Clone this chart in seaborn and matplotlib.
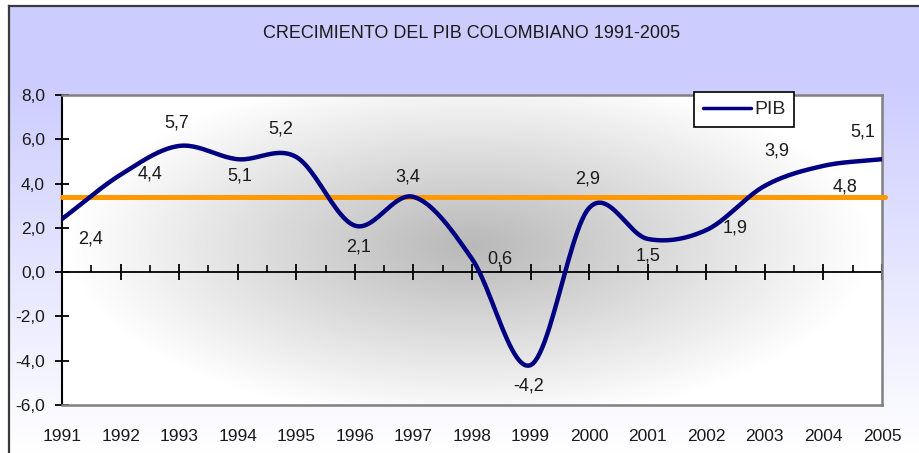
import numpy as np
import pandas as pd
import matplotlib
matplotlib.use("Agg")
import matplotlib.pyplot as plt
import seaborn as sns
from matplotlib.ticker import FuncFormatter, FixedLocator

# ---------------- data ----------------
years = [1991, 1992, 1993, 1994, 1995, 1996, 1997, 1998,
         1999, 2000, 2001, 2002, 2003, 2004, 2005]
pib = [2.4, 4.4, 5.7, 5.1, 5.2, 2.1, 3.4, 0.6,
       -4.2, 2.9, 1.5, 1.9, 3.9, 4.8, 5.1]
avg_line = 3.4
year_labels = [str(y) for y in years]
y_ticks = [-6, -4, -2, 0, 2, 4, 6, 8]
title_text = "CRECIMIENTO DEL PIB COLOMBIANO 1991-2005"
series_name = "PIB"

# label offsets (pixels: dx right, dy down) — styling only
label_offsets = [(29, 20), (29, -1), (-2, -23), (2, 17), (-16, -28),
                 (4, 21), (-6, -20), (28, 0), (-2, 21), (-2, -29),
                 (0, 17), (29, -2), (12, -35), (22, 21), (-19, -27)]

sns.set_theme(style="white")
plt.rcParams["font.family"] = ["Liberation Sans", "DejaVu Sans"]

W, H = 919, 453
fig = plt.figure(figsize=(W / 100, H / 100), dpi=100)
fig.patch.set_facecolor("white")

# ---------- outer lavender background with frame ----------
bg = fig.add_axes([9 / W, 0, (W - 9) / W, (H - 6) / H])
ypix = np.linspace(6, H, 300)
t = np.clip((ypix - 80) / (H - 80), 0, 1)
rg = (204 + 51 * t) / 255.0
grad = np.zeros((300, 2, 3))
grad[:, :, 0] = rg[:, None]
grad[:, :, 1] = rg[:, None]
grad[:, :, 2] = 1.0
bg.imshow(grad, aspect="auto", extent=[0, 1, 0, 1], origin="upper")
bg.set_xlim(0, 1)
bg.set_ylim(0, 1)
bg.set_xticks([])
bg.set_yticks([])
for s in ["right", "bottom"]:
    bg.spines[s].set_visible(False)
for s in ["left", "top"]:
    bg.spines[s].set_color("#3a3a3a")
    bg.spines[s].set_linewidth(1.6)

# ---------- plot area ----------
L, R, T, B = 62, 882, 95, 405
pos = [L / W, 1 - B / H, (R - L) / W, (B - T) / H]

# gradient plot-area fill
axg = fig.add_axes(pos, zorder=0.5)
pw, ph = R - L, B - T
X, Y = np.meshgrid(np.arange(pw), np.arange(ph))
cx, cy, rx, ry = 408, 150, 400, 175
d = np.sqrt(((X - cx) / rx) ** 2 + ((Y - cy) / ry) ** 2)
c0 = 184
val = (c0 + (255 - c0) * np.clip(d, 0, 1)) / 255.0
img = np.dstack([val, val, val])
axg.imshow(img, aspect="auto", extent=[0, 1, 0, 1], origin="upper")
axg.set_axis_off()

ax = fig.add_axes(pos, zorder=2)
ax.patch.set_visible(False)

# zero axis with ticks (twin sharing y)
ax0 = ax.twiny()
ax0.set_zorder(1)
ax0.patch.set_visible(False)
ax0.set_xlim(years[0], years[-1])
for s in ["top", "left", "right"]:
    ax0.spines[s].set_visible(False)
ax0.spines["bottom"].set_position(("data", 0))
ax0.spines["bottom"].set_color("black")
ax0.spines["bottom"].set_linewidth(1.3)
ax0.xaxis.set_ticks_position("bottom")
ax0.xaxis.set_major_locator(FixedLocator(years))
ax0.xaxis.set_minor_locator(FixedLocator([y + 0.5 for y in years[:-1]]))
ax0.tick_params(axis="x", which="major", direction="inout", length=11.5,
                width=1.3, color="black", labelbottom=False, labeltop=False)
ax0.tick_params(axis="x", which="minor", direction="in", length=5,
                width=1.2, color="black", labelbottom=False, labeltop=False)

# smoothed curve (Catmull-Rom through the data points)
xs = np.array(years, dtype=float)
ys = np.array(pib, dtype=float)
n = len(xs)
m = np.zeros(n)
m[1:-1] = (ys[2:] - ys[:-2]) / 2.0
m[0] = ys[1] - ys[0]
m[-1] = ys[-1] - ys[-2]
cx_list, cy_list = [], []
for i in range(n - 1):
    tt = np.linspace(0, 1, 25, endpoint=(i == n - 2))
    h00 = 2 * tt**3 - 3 * tt**2 + 1
    h10 = tt**3 - 2 * tt**2 + tt
    h01 = -2 * tt**3 + 3 * tt**2
    h11 = tt**3 - tt**2
    cx_list.append(xs[i] + tt * (xs[i + 1] - xs[i]))
    cy_list.append(h00 * ys[i] + h10 * m[i] + h01 * ys[i + 1] + h11 * m[i + 1])
curve = pd.DataFrame({"x": np.concatenate(cx_list), "y": np.concatenate(cy_list)})

ax.axhline(avg_line, xmin=0, xmax=1.004, color="#ff9900", lw=3.6,
           zorder=3, clip_on=False)
sns.lineplot(data=curve, x="x", y="y", ax=ax, color="#000080", lw=3.2,
             label=series_name, sort=False, estimator=None, zorder=4)

# data labels
for x, v, (dx, dy) in zip(years, pib, label_offsets):
    ax.annotate(f"{v:.1f}".replace(".", ","), (x, v), xytext=(dx, -dy),
                textcoords="offset pixels", ha="center", va="center",
                fontsize=13, color="#1a1a1a", zorder=5)

ax.set_xlim(years[0], years[-1])
ax.set_ylim(y_ticks[0], y_ticks[-1])
ax.set_xlabel("")
ax.set_ylabel("")
ax.set_xticks(years)
ax.set_xticklabels(year_labels)
ax.set_yticks(y_ticks)
ax.yaxis.set_major_formatter(FuncFormatter(lambda v, p: f"{v:.1f}".replace(".", ",")))
ax.tick_params(axis="x", length=0, pad=17, labelsize=12.5, labelcolor="#1a1a1a")
ax.tick_params(axis="y", direction="inout", length=9.5, width=1.3,
               color="black", pad=7.5, labelsize=12.5, labelcolor="#1a1a1a")
ax.yaxis.set_ticks_position("left")
for s in ["top", "right", "bottom"]:
    ax.spines[s].set_color("#808080")
    ax.spines[s].set_linewidth(1.8)
ax.spines["left"].set_color("black")
ax.spines["left"].set_linewidth(1.5)

leg = ax.legend(loc="upper left", bbox_to_anchor=(694 / W, 1 - 92 / H),
                bbox_transform=fig.transFigure, frameon=True, fancybox=False,
                edgecolor="black", framealpha=1, borderaxespad=0,
                handlelength=2.5, handletextpad=0.15, borderpad=0.45,
                fontsize=14)
leg.get_frame().set_linewidth(1.2)
leg.get_frame().set_facecolor("white")
for lh in leg.get_lines():
    lh.set_linewidth(2.5)
leg.set_zorder(10)

fig.text(472 / W, 1 - 33 / H, title_text, ha="center", va="center",
         fontsize=13, color="#1a1a1a")

fig.savefig("out.png", dpi=100)
